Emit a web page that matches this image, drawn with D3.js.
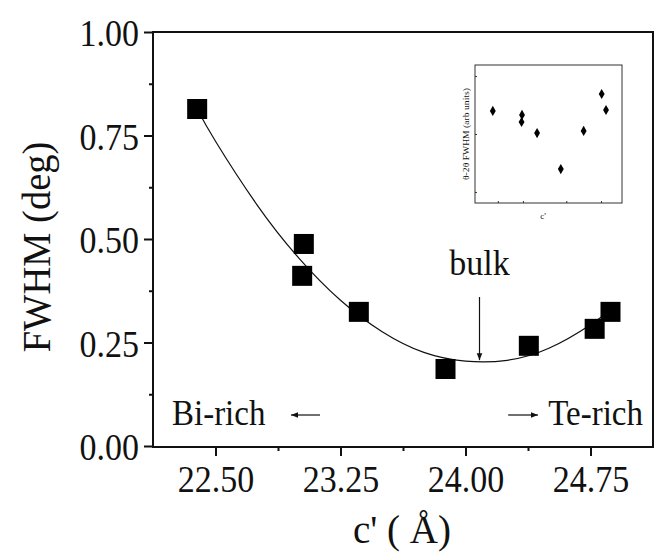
<!DOCTYPE html>
<html><head><meta charset="utf-8">
<script src="https://cdn.jsdelivr.net/npm/d3@7"></script>
<style>body{margin:0;background:#fff}svg{display:block}text{font-family:"Liberation Serif","Times New Roman",serif;fill:#111}</style>
</head><body><div id="c"></div>
<script>
// Measured points
const cValues = [22.39, 23.03, 23.02, 23.36, 23.88, 24.38, 24.775, 24.87];
const fwhmValues = [0.814, 0.488, 0.411, 0.324, 0.186, 0.242, 0.283, 0.324];
// Fit curve
const fitC = [22.39, 22.50, 22.75, 23.00, 23.25, 23.50, 23.75, 24.00, 24.25, 24.50, 24.75, 24.87];
const fitF = [0.814, 0.736, 0.582, 0.454, 0.352, 0.276, 0.226, 0.205, 0.207, 0.236, 0.293, 0.330];
// Inset (theta-2theta FWHM, arbitrary units)
const insetValues = [0.667, 0.638, 0.587, 0.507, 0.246, 0.522, 0.790, 0.674];
const xTicks = [22.50, 23.25, 24.00, 24.75];
const yTicks = [0.00, 0.25, 0.50, 0.75, 1.00];
const bulkC = 24.09, bulkF = 0.205;

const W = 659, H = 552;
const svg = d3.select("#c").append("svg").attr("width", W).attr("height", H);
const L = 153, R = 653, T = 32, B = 447;
const x = d3.scaleLinear().domain([22.125, 25.125]).range([L, R]);
const y = d3.scaleLinear().domain([0, 1]).range([446, T]);

function stretch(sel, k) {
  sel.each(function () {
    const t = d3.select(this);
    const x0 = +t.attr("x") || 0, y0 = +t.attr("y") || 0;
    t.attr("transform", `translate(${x0},${y0}) scale(1,${k}) translate(${-x0},${-y0})`);
  });
}

// frame
svg.append("rect").attr("x", L).attr("y", T).attr("width", R - L).attr("height", B - T)
  .attr("fill", "none").attr("stroke", "#111").attr("stroke-width", 2);

// x axis
const xAxis = svg.append("g").attr("transform", `translate(0,${B})`)
  .call(d3.axisBottom(x).tickValues(xTicks).tickFormat(d3.format(".2f")).tickSize(9).tickPadding(9));
xAxis.select(".domain").remove();
xAxis.selectAll("line").attr("stroke", "#111").attr("stroke-width", 2);
xAxis.selectAll("text").attr("font-size", 34).attr("fill", "#111").call(stretch, 1.12);
const xMinor = svg.append("g").attr("transform", `translate(0,${B})`)
  .call(d3.axisBottom(x).tickValues([22.875, 23.625, 24.375]).tickFormat("").tickSize(4));
xMinor.select(".domain").remove();
xMinor.selectAll("line").attr("stroke", "#111").attr("stroke-width", 2);

// y axis
const yAxis = svg.append("g").attr("transform", `translate(${L},0)`)
  .call(d3.axisLeft(y).tickValues(yTicks).tickFormat(d3.format(".2f")).tickSize(9).tickPadding(5));
yAxis.select(".domain").remove();
yAxis.selectAll("line").attr("stroke", "#111").attr("stroke-width", 2);
yAxis.selectAll("text").attr("font-size", 34).attr("fill", "#111").attr("dy", "0.36em").call(stretch, 1.12);
const yMinor = svg.append("g").attr("transform", `translate(${L},0)`)
  .call(d3.axisLeft(y).tickValues([0.125, 0.375, 0.625, 0.875]).tickFormat("").tickSize(4));
yMinor.select(".domain").remove();
yMinor.selectAll("line").attr("stroke", "#111").attr("stroke-width", 2);

// axis titles
svg.append("text").attr("transform", "translate(50,247) rotate(-90) scale(1,1.06)").attr("text-anchor", "middle")
  .attr("font-size", 38.5).text("FWHM (deg)");
svg.append("text").attr("x", 402).attr("y", 543).attr("text-anchor", "middle")
  .attr("font-size", 39).call(stretch, 1.05).text("c' ( Å)");

// fit curve
const fit = fitC.map((c, i) => [c, fitF[i]]);
svg.append("path").datum(fit).attr("fill", "none").attr("stroke", "#111").attr("stroke-width", 1.2)
  .attr("d", d3.line().x(d => x(d[0])).y(d => y(d[1])).curve(d3.curveNatural));

// squares
const S = 20;
svg.selectAll("rect.pt").data(cValues).enter().append("rect").attr("class", "pt")
  .attr("x", (d) => x(d) - S / 2).attr("y", (d, i) => y(fwhmValues[i]) - S / 2)
  .attr("width", S).attr("height", S).attr("fill", "#000");

// arrow marker
const defs = svg.append("defs");
defs.append("marker").attr("id", "ah").attr("viewBox", "0 0 10 10").attr("refX", 10).attr("refY", 5)
  .attr("markerWidth", 7).attr("markerHeight", 7).attr("markerUnits", "userSpaceOnUse").attr("orient", "auto")
  .append("path").attr("d", "M0,1 L10,5 L0,9 Z").attr("fill", "#111");

// bulk annotation
svg.append("text").attr("x", x(bulkC) - 1).attr("y", 275).attr("text-anchor", "middle").attr("font-size", 34)
  .call(stretch, 1.08).text("bulk");
svg.append("line").attr("x1", x(bulkC) - 1).attr("x2", x(bulkC) - 1).attr("y1", 297).attr("y2", y(bulkF) - 1)
  .attr("stroke", "#111").attr("stroke-width", 1.2).attr("marker-end", "url(#ah)");

// Bi-rich / Te-rich
svg.append("text").attr("x", 172).attr("y", 425).attr("font-size", 33).call(stretch, 1.1).text("Bi-rich");
svg.append("line").attr("x1", 320).attr("x2", 291).attr("y1", 415).attr("y2", 415)
  .attr("stroke", "#111").attr("stroke-width", 1.2).attr("marker-end", "url(#ah)");
svg.append("text").attr("x", 643).attr("y", 425).attr("text-anchor", "end").attr("font-size", 33).call(stretch, 1.1).text("Te-rich");
svg.append("line").attr("x1", 508).attr("x2", 538).attr("y1", 415).attr("y2", 415)
  .attr("stroke", "#111").attr("stroke-width", 1.2).attr("marker-end", "url(#ah)");

// inset
const iL = 475, iR = 622, iT = 65, iB = 203;
const ix = d3.scaleLinear().domain([22.0, 25.22]).range([iL, iR]);
const iy = d3.scaleLinear().domain([0, 1]).range([iB, iT]);
svg.append("rect").attr("x", iL).attr("y", iT).attr("width", iR - iL).attr("height", iB - iT)
  .attr("fill", "#fff").attr("stroke", "#333").attr("stroke-width", 1);
const ixa = svg.append("g").attr("transform", `translate(0,${iB})`)
  .call(d3.axisTop(ix).tickValues([22.5, 23.05, 24.0, 24.76]).tickFormat("").tickSize(2));
ixa.select(".domain").remove();
ixa.selectAll("line").attr("stroke", "#333");
const iya = svg.append("g").attr("transform", `translate(${iL},0)`)
  .call(d3.axisRight(iy).tickValues([0.08, 0.5, 0.92]).tickFormat("").tickSize(2));
iya.select(".domain").remove();
iya.selectAll("line").attr("stroke", "#333");
svg.selectAll("path.dia").data(cValues).enter().append("path").attr("class", "dia")
  .attr("transform", (d, i) => `translate(${ix(d)},${iy(insetValues[i])})`)
  .attr("d", d3.symbol().type(d3.symbolDiamond).size(30)).attr("fill", "#000");
svg.append("text").attr("transform", "translate(469,134) rotate(-90)").attr("text-anchor", "middle")
  .attr("font-size", 8.5).attr("textLength", 92).attr("lengthAdjust", "spacingAndGlyphs")
  .text("θ-2θ FWHM (arb units)");
svg.append("text").attr("x", 543).attr("y", 219).attr("text-anchor", "middle").attr("font-size", 9).text("c'");
</script></body></html>
